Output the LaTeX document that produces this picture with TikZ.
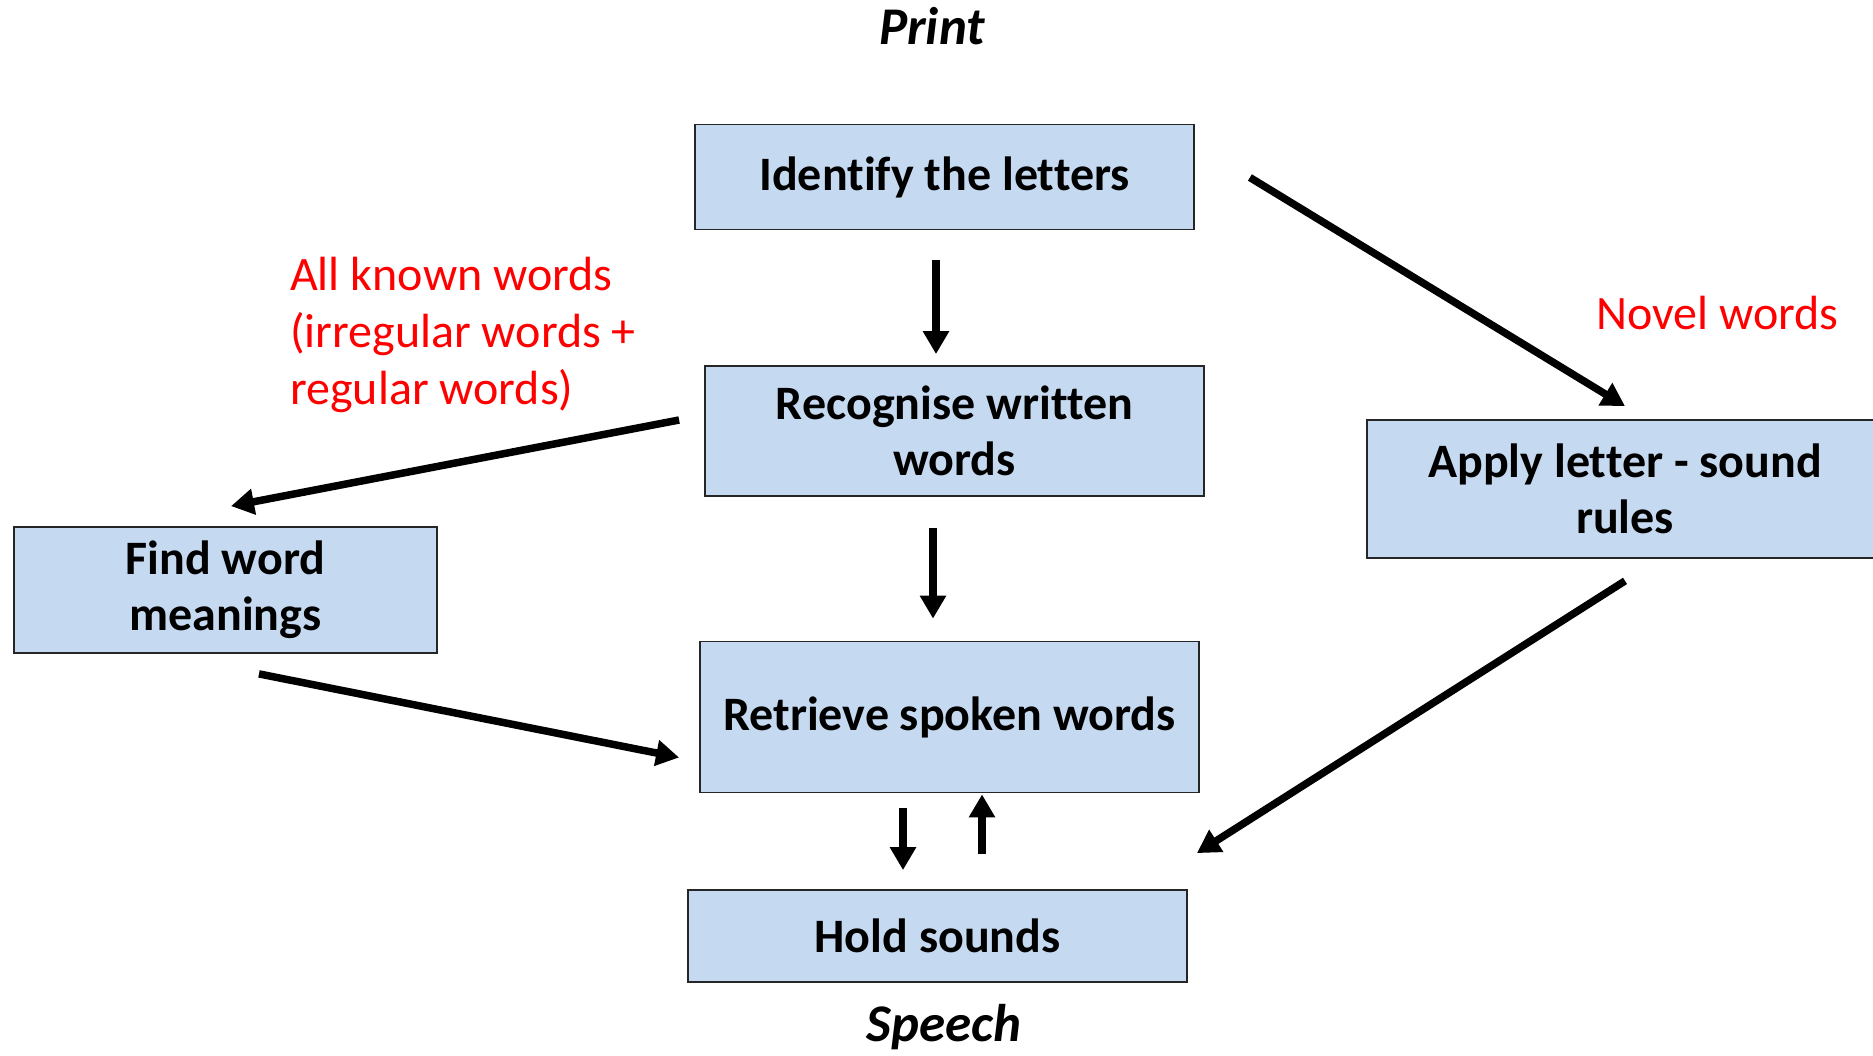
\documentclass[tikz,border=0pt]{standalone}
\usepackage{fontspec}
\setmainfont{Carlito}[Ligatures=NoCommon]
\usetikzlibrary{arrows.meta}
\definecolor{boxfill}{RGB}{197,217,241}
\definecolor{labelred}{RGB}{255,0,0}
\begin{document}
\begin{tikzpicture}[x=1pt,y=-1pt,
  stepbox/.style={draw=black!85,line width=1.8pt,fill=boxfill,minimum width=499pt,
    align=center,inner sep=0pt,font=\fontsize{48}{56}\selectfont\bfseries},
  arr/.style={draw=black,line width=7.5pt,-{Triangle[length=23pt,width=25pt]}},
  endlabel/.style={font=\fontsize{53}{60}\selectfont\bfseries\itshape,inner sep=0pt},
  note/.style={text=labelred,font=\fontsize{48}{57}\selectfont,align=left,inner sep=0pt}]
\useasboundingbox (0,0) rectangle (1873,1055);
\begin{scope}
\clip (0,0) rectangle (1873,1055);

% processing stages
\node[stepbox,minimum height=105pt] (ident) at (944.5,177) {Identify the letters};
\node[stepbox,minimum height=130pt] (recog) at (954.5,431) {Recognise written\\words};
\node[stepbox,minimum height=151pt] (retr) at (949.5,717) {Retrieve spoken words};
\node[stepbox,minimum height=92pt] (hold) at (937.5,936) {Hold sounds};
\node[stepbox,minimum width=423pt,minimum height=126pt] (find) at (225.5,590) {Find word\\meanings};
\node[stepbox,minimum width=516pt,minimum height=138pt] (apply) at (1625,489) {Apply letter - sound\\rules};

% input and output
\node[endlabel] (print) at (932,26) {Print};
\node[endlabel] (speech) at (944,1027) {Speech};

% route labels
\node[note,anchor=base west] (known) at (290,404) {All known words\\(irregular words +\\regular words)};
\node[note,anchor=base west] (novel) at (1596,329) {Novel words};

% connectors
\draw[arr] ([xshift=-8.5pt,yshift=-30pt]ident.south) -- ([xshift=-18.5pt,yshift=11pt]recog.north);
\draw[arr] ([xshift=-21.5pt,yshift=-31pt]recog.south) -- ([xshift=-16.5pt,yshift=22pt]retr.north);
\draw[arr] ([xshift=-46.5pt,yshift=-15pt]retr.south) -- ([xshift=-34.5pt,yshift=19pt]hold.north);
\draw[arr] ([xshift=44.5pt,yshift=35pt]hold.north) -- ([xshift=32.5pt,yshift=-1pt]retr.south);
\draw[arr] ([shift={(-25,-11)}]recog.west) -- ([shift={(5.5,-20)}]find.north);
\draw[arr] ([shift={(33.5,20)}]find.south) -- ([shift={(-20,40.5)}]retr.west);
\draw[arr] ([shift={(55,0.5)}]ident.east) -- ([shift={(0,-13)}]apply.north);
\draw[arr] ([shift={(0,22)}]apply.south) -- ([shift={(9,-36)}]hold.north east);
\end{scope}
\end{tikzpicture}
\end{document}
